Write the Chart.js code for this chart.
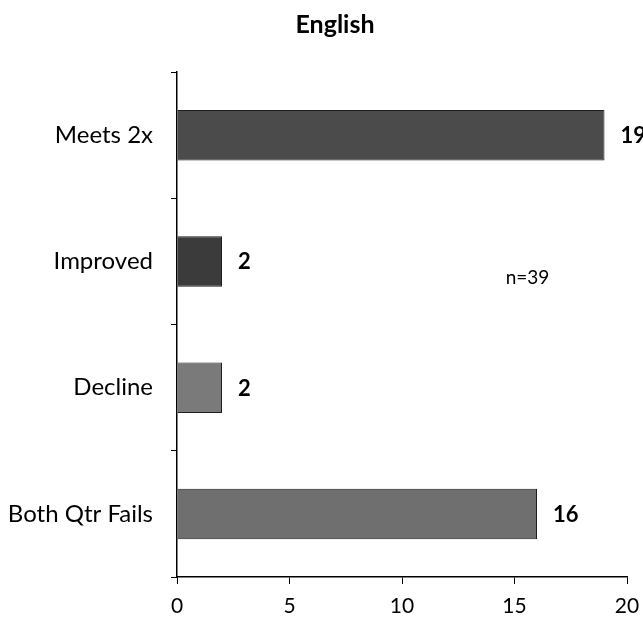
<!DOCTYPE html>
<html>
<head>
<meta charset="utf-8">
<script src="https://cdn.jsdelivr.net/npm/chart.js@4/dist/chart.umd.min.js"></script>
<style>
  html, body { margin: 0; padding: 0; background: #fff; }
  #wrap { width: 643px; height: 628px; position: relative; }
</style>
</head>
<body>
<div id="wrap"><canvas id="c" width="643" height="628"></canvas></div>
<script>
const chartTitle = "English";
const categories = ["Meets 2x", "Improved", "Decline", "Both Qtr Fails"];
const counts = [19, 2, 2, 16];
const barColors = ["#4b4b4b", "#3b3b3b", "#7a7a7a", "#6f6f6f"];
const xTicks = [0, 5, 10, 15, 20];
const noteText = "n=39";

const FONT = "Lato, 'Open Sans', sans-serif";

const labelPlugin = {
  id: "labels",
  afterDatasetsDraw(chart) {
    const ctx = chart.ctx;
    const meta = chart.getDatasetMeta(0);
    ctx.save();
    ctx.fillStyle = "#000";
    ctx.textBaseline = "middle";
    ctx.textAlign = "left";
    ctx.font = "bold 22px " + FONT;
    meta.data.forEach((bar, i) => {
      ctx.fillText(String(counts[i]), bar.x + 16, bar.y + 1);
    });
    // title
    ctx.textAlign = "center";
    ctx.font = "bold 25px " + FONT;
    ctx.fillText(chartTitle, 335, 25);
    // sample size note
    const xs = chart.scales.x;
    const ys = chart.scales.y;
    ctx.font = "19px " + FONT;
    ctx.fillText(noteText, xs.getPixelForValue(15.58), ys.getPixelForValue(1) + 16);
    ctx.restore();
  }
};

new Chart(document.getElementById("c"), {
  type: "bar",
  data: {
    labels: categories,
    datasets: [{
      data: counts,
      backgroundColor: barColors,
      borderColor: "#1e1e1e",
      borderWidth: 1,
      categoryPercentage: 0.4,
      barPercentage: 1.0
    }]
  },
  options: {
    indexAxis: "y",
    responsive: false,
    animation: false,
    layout: { padding: { top: 72, right: 16, bottom: 0, left: 0 } },
    plugins: {
      legend: { display: false },
      tooltip: { enabled: false },
      title: { display: false }
    },
    scales: {
      x: {
        min: 0, max: 20,
        afterBuildTicks(scale) { scale.ticks = xTicks.map(v => ({ value: v })); },
        afterFit(scale) {
          scale.height = 51;
          scale.paddingRight = 0;
          scale.paddingLeft = 0;
        },
        grid: { drawOnChartArea: false, tickLength: 7, color: "#000", lineWidth: 1 },
        border: { color: "#000", width: 1.5 },
        ticks: { color: "#000", font: { family: FONT, size: 21 }, padding: 10 }
      },
      y: {
        afterFit(scale) { scale.width = 177; },
        grid: { drawOnChartArea: false, tickLength: 6, color: "#000", lineWidth: 1, offset: true },
        border: { color: "#000", width: 1.5 },
        ticks: { color: "#000", font: { family: FONT, size: 24 }, padding: 18 }
      }
    }
  },
  plugins: [labelPlugin]
});
</script>
</body>
</html>
